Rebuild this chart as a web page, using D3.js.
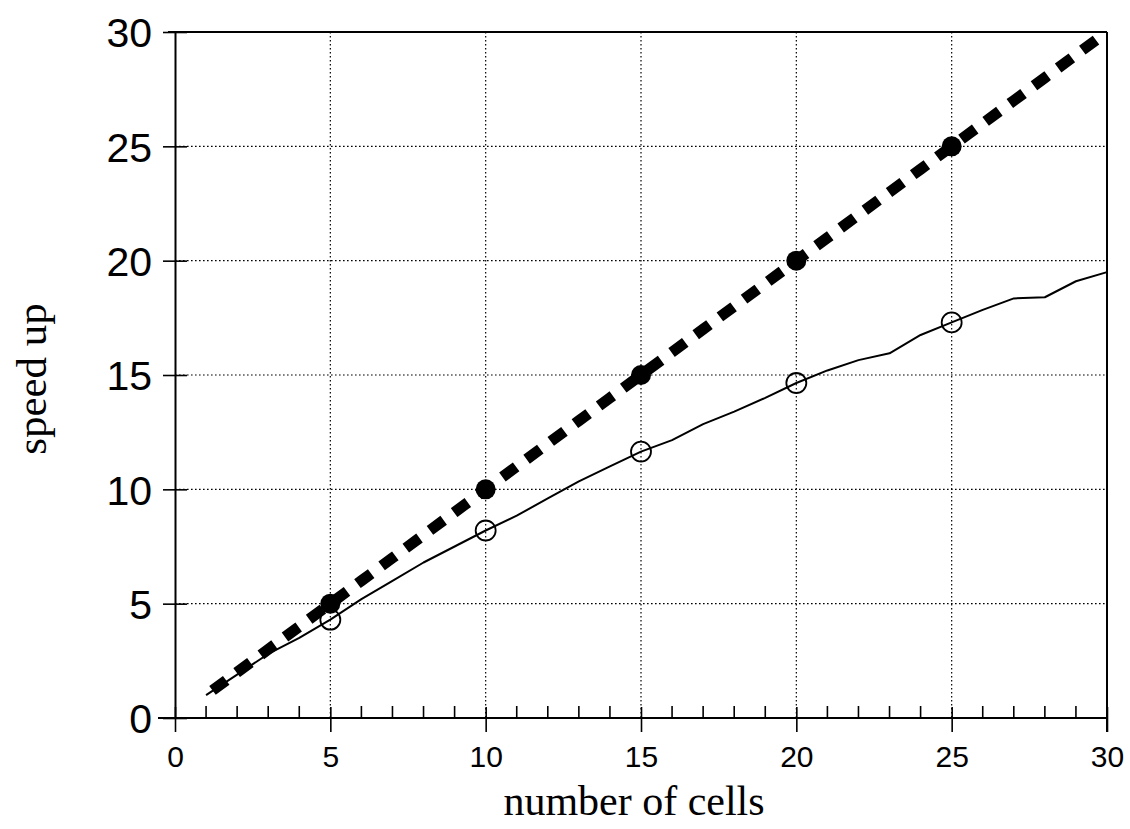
<!DOCTYPE html>
<html>
<head>
<meta charset="utf-8">
<script src="https://cdn.jsdelivr.net/npm/d3@7"></script>
<style>
  html, body { margin: 0; padding: 0; background: #fff; }
  svg { display: block; }
</style>
</head>
<body>
<svg id="chart" width="1130" height="829"></svg>
<script>
// Number of cells (x) and the two speed-up series
const cells = [1,2,3,4,5,6,7,8,9,10,11,12,13,14,15,16,17,18,19,20,21,22,23,24,25,26,27,28,29,30];
const idealSpeedup = [1,2,3,4,5,6,7,8,9,10,11,12,13,14,15,16,17,18,19,20,21,22,23,24,25,26,27,28,29,30];
const measuredSpeedup = [1.0,1.9,2.8,3.5,4.3,5.2,6.0,6.8,7.5,8.2,8.85,9.6,10.35,11.0,11.65,12.15,12.85,13.4,14.0,14.65,15.2,15.65,15.95,16.75,17.3,17.85,18.35,18.4,19.1,19.5];
const markerCells = [5,10,15,20,25];
const xTicks = [0,5,10,15,20,25,30];
const yTicks = [0,5,10,15,20,25,30];
const xMinorTicks = [1,2,3,4,6,7,8,9,11,12,13,14,16,17,18,19,21,22,23,24,26,27,28,29];
const xTitle = "number of cells";
const yTitle = "speed up";

const svg = d3.select("#chart");
const x = d3.scaleLinear().domain([0, 30]).range([175, 1107]);
const y = d3.scaleLinear().domain([0, 30]).range([718, 32]);

const sans = "'Liberation Sans', Arial, Helvetica, sans-serif";
const serif = "'Liberation Serif', 'Times New Roman', Times, serif";

// Plot-area clip for the thick dashed line
svg.append("defs").append("clipPath").attr("id", "plot-clip")
  .append("rect").attr("x", x(0)).attr("y", y(30))
  .attr("width", x(30) - x(0)).attr("height", y(0) - y(30));

// Dotted grid
const grid = svg.append("g").attr("stroke", "#000").attr("stroke-width", 1.2)
  .attr("stroke-dasharray", "1.6,2.4");
grid.selectAll("line.gx").data(xTicks.filter(d => d > 0 && d < 30)).join("line")
  .attr("x1", d => x(d)).attr("x2", d => x(d)).attr("y1", y(30)).attr("y2", y(0));
grid.selectAll("line.gy").data(yTicks.filter(d => d > 0 && d < 30)).join("line")
  .attr("x1", x(0)).attr("x2", x(30)).attr("y1", d => y(d)).attr("y2", d => y(d));

// Frame: top and right borders
const frame = svg.append("g").attr("stroke", "#000").attr("stroke-width", 2).attr("fill", "none");
frame.append("line").attr("x1", x(0) - 7).attr("x2", x(30)).attr("y1", y(30)).attr("y2", y(30));
frame.append("line").attr("x1", x(30)).attr("x2", x(30)).attr("y1", y(30)).attr("y2", y(0) + 14);

// Y axis: ticks cross the axis line
const yAxis = svg.append("g").attr("transform", `translate(${x(0)},0)`)
  .call(d3.axisLeft(y).tickValues(yTicks).tickSize(12).tickPadding(10).tickSizeOuter(0));
yAxis.select(".domain").attr("stroke-width", 2);
yAxis.selectAll(".tick line").attr("stroke-width", 1.6).attr("x2", -12).attr("x1", 12);
yAxis.selectAll(".tick text").attr("font-family", sans).attr("font-size", 41).attr("fill", "#000")
  .attr("x", -23).attr("dy", "0.36em");

// X axis: major ticks cross the axis line, minor ticks point up
const xAxis = svg.append("g").attr("transform", `translate(0,${y(0)})`)
  .call(d3.axisBottom(x).tickValues(xTicks).tickSize(14).tickPadding(14).tickSizeOuter(0));
xAxis.select(".domain").attr("stroke-width", 2).attr("d", `M${x(0) - 17},0H${x(30)}`);
xAxis.selectAll(".tick line").attr("stroke-width", 1.6).attr("y1", -11).attr("y2", 14);
xAxis.selectAll(".tick text").attr("font-family", sans).attr("font-size", 30).attr("fill", "#000")
  .attr("y", 28).attr("dy", "0.71em");
xAxis.selectAll("line.minor").data(xMinorTicks).join("line").attr("class", "minor")
  .attr("x1", d => x(d)).attr("x2", d => x(d)).attr("y1", 0).attr("y2", -12)
  .attr("stroke", "#000").attr("stroke-width", 1.6);

// Axis titles
svg.append("text").attr("x", 634).attr("y", 815)
  .attr("text-anchor", "middle").attr("font-family", serif).attr("font-size", 42)
  .attr("fill", "#000").text(xTitle);
svg.append("text").attr("transform", `translate(46,${(y(0) + y(30)) / 2 + 4}) rotate(-90)`)
  .attr("text-anchor", "middle").attr("font-family", serif).attr("font-size", 43)
  .attr("fill", "#000").text(yTitle);

// Lines
const line = d3.line().x(d => x(d[0])).y(d => y(d[1]));
const idealPts = cells.map((c, i) => [c, idealSpeedup[i]]);
const measuredPts = cells.map((c, i) => [c, measuredSpeedup[i]]);

svg.append("path").datum(measuredPts).attr("d", line)
  .attr("fill", "none").attr("stroke", "#000").attr("stroke-width", 2).attr("stroke-linejoin", "round");

svg.append("path").datum(idealPts).attr("d", line).attr("clip-path", "url(#plot-clip)")
  .attr("fill", "none").attr("stroke", "#000").attr("stroke-width", 11)
  .attr("stroke-dasharray", "17,13").attr("stroke-dashoffset", -8);

// Markers
svg.append("g").selectAll("circle").data(markerCells).join("circle")
  .attr("cx", d => x(d)).attr("cy", d => y(idealSpeedup[cells.indexOf(d)]))
  .attr("r", 10).attr("fill", "#000");
svg.append("g").selectAll("circle").data(markerCells).join("circle")
  .attr("cx", d => x(d)).attr("cy", d => y(measuredSpeedup[cells.indexOf(d)]))
  .attr("r", 10).attr("fill", "none").attr("stroke", "#000").attr("stroke-width", 1.8);
</script>
</body>
</html>
